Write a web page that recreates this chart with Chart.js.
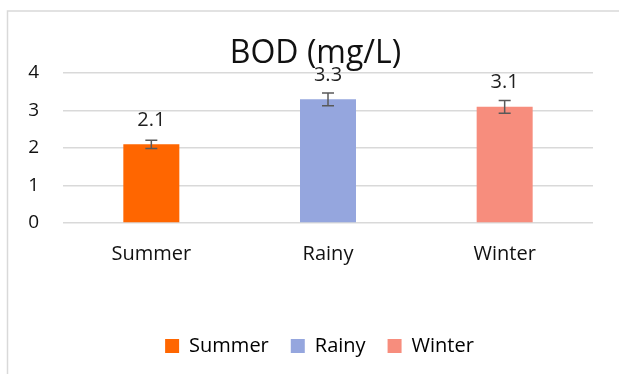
<!DOCTYPE html>
<html>
<head>
<meta charset="utf-8">
<script src="https://cdn.jsdelivr.net/npm/chart.js@4.4.1/dist/chart.umd.min.js"></script>
<style>
  html, body { margin: 0; padding: 0; background: #fff; }
  #wrap { width: 619px; height: 374px; }
</style>
</head>
<body>
<div id="wrap"><canvas id="chart" width="619" height="374"></canvas></div>
<script>
// data
const seasons = ['Summer', 'Rainy', 'Winter'];
const bodValues = [2.1, 3.3, 3.1];
const bodErrors = [0.11, 0.17, 0.17];
const barColors = ['#FF6600', '#95A6DE', '#F78D7D'];
const chartTitle = 'BOD (mg/L)';

const FONT = "'Open Sans', sans-serif";

// light grey frame like the Excel chart area
const frame = {
    id: 'frame',
    beforeDraw(chart) {
        const ctx = chart.ctx;
        ctx.save();
        ctx.strokeStyle = '#d9d9d9';
        ctx.lineWidth = 1.5;
        ctx.beginPath();
        ctx.moveTo(7.5, chart.height);
        ctx.lineTo(7.5, 11);
        ctx.lineTo(chart.width, 11);
        ctx.stroke();
        ctx.restore();
    },
};

// error bars + value labels + title
const errorBars = {
    id: 'errorBars',
    afterDatasetsDraw(chart) {
        const ctx = chart.ctx;
        const y = chart.scales.y;
        const meta = chart.getDatasetMeta(0);
        ctx.save();
        meta.data.forEach((bar, i) => {
            const top = y.getPixelForValue(bodValues[i] + bodErrors[i]);
            const bot = y.getPixelForValue(bodValues[i] - bodErrors[i]);
            ctx.strokeStyle = '#595959';
            ctx.lineWidth = 1.5;
            ctx.beginPath();
            ctx.moveTo(bar.x, top);
            ctx.lineTo(bar.x, bot);
            ctx.moveTo(bar.x - 6, top);
            ctx.lineTo(bar.x + 6, top);
            ctx.moveTo(bar.x - 6, bot);
            ctx.lineTo(bar.x + 6, bot);
            ctx.stroke();

            ctx.fillStyle = '#1f1f1f';
            ctx.font = '20px ' + FONT;
            ctx.textAlign = 'center';
            ctx.textBaseline = 'middle';
            ctx.fillText(bodValues[i].toFixed(1), bar.x, bar.y - 24);
        });
        ctx.restore();
    },
    afterDraw(chart) {
        const ctx = chart.ctx;
        ctx.save();
        ctx.fillStyle = '#111';
        ctx.font = '32px ' + FONT;
        ctx.textAlign = 'center';
        ctx.textBaseline = 'alphabetic';
        ctx.fillText(chartTitle, chart.width / 2 + 6, 63);
        ctx.restore();
    },
};

const canvas = document.getElementById('chart');

const chart = new Chart(canvas, {
    type: 'bar',
    data: {
        labels: seasons,
        datasets: [{
            label: chartTitle,
            data: bodValues,
            backgroundColor: barColors,
            borderWidth: 0,
            barPercentage: 0.317,
            categoryPercentage: 1,
        }],
    },
    options: {
        responsive: false,
        animation: false,
        layout: {
            padding: { left: 20, right: 0, top: 73, bottom: 8 },
        },
        plugins: {
            title: { display: false },
            tooltip: { enabled: false },
            legend: {
                position: 'bottom',
                labels: {
                    font: { family: FONT, size: 20 },
                    color: '#111',
                    boxWidth: 14,
                    boxHeight: 14,
                    padding: 22,
                    generateLabels(c) {
                        return seasons.map((s, i) => ({
                            text: s,
                            fillStyle: barColors[i],
                            strokeStyle: barColors[i],
                            lineWidth: 0,
                            index: i,
                        }));
                    },
                },
            },
        },
        scales: {
            x: {
                grid: { display: false },
                border: { display: false },
                afterFit(scale) { scale.height = 91; },
                ticks: {
                    font: { family: FONT, size: 20 },
                    color: '#111',
                    padding: 11,
                },
            },
            y: {
                min: 0,
                max: 4,
                afterFit(scale) { scale.width = 43; },
                grid: { color: '#d9d9d9', lineWidth: 1.5, drawTicks: false },
                border: { display: false },
                ticks: {
                    stepSize: 1,
                    font: { family: FONT, size: 19 },
                    color: '#111',
                    padding: 24,
                },
            },
            // empty right-hand spacer so the plot ends where the reference does
            yRight: {
                position: 'right',
                display: true,
                grid: { display: false, drawTicks: false },
                border: { display: false },
                ticks: { display: false },
                afterFit(scale) { scale.width = 26; },
            },
        },
    },
    plugins: [frame, errorBars],
});
</script>
</body>
</html>
